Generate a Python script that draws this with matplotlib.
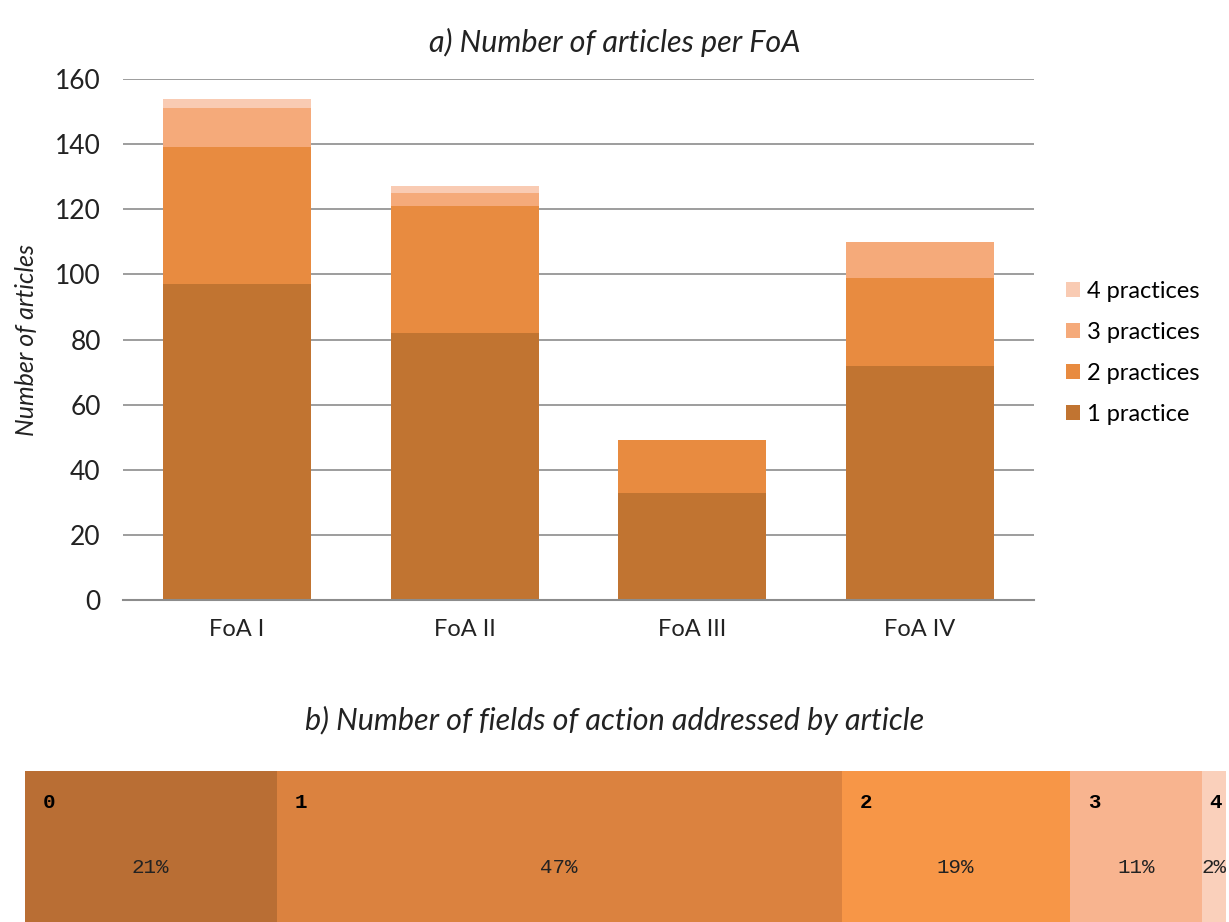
import matplotlib
matplotlib.use("Agg")
import matplotlib.pyplot as plt
import numpy as np

plt.rcParams["font.family"] = ["Lato", "DejaVu Sans"]

# panel a: articles per field of action, stacked by number of practices
foas = ["FoA I", "FoA II", "FoA III", "FoA IV"]
series_names = ["1 practice", "2 practices", "3 practices", "4 practices"]
one_practice = [97, 82, 33, 72]
two_practices = [42, 39, 16, 27]
three_practices = [12, 4, 0, 11]
four_practices = [3, 2, 0, 0]
yticks = [0, 20, 40, 60, 80, 100, 120, 140, 160]

# panel b: share of articles by number of fields of action addressed
n_fields = ["0", "1", "2", "3", "4"]
shares = [21, 47, 19, 11, 2]

a_colors = ["#C17431", "#E88B40", "#F5AA7A", "#F9CBB3"]
b_colors = ["#B96E34", "#DB823F", "#F79647", "#F8B48F", "#FAD0BB"]

fig = plt.figure(figsize=(12.29, 9.22), dpi=100)
W, H = 1229, 922

# ---- panel a
ax = fig.add_axes([123 / W, 1 - 600 / H, 911 / W, 521 / H])
x = np.arange(len(foas))
bottom = np.zeros(len(foas))
for vals, name, col in zip([one_practice, two_practices, three_practices, four_practices],
                           series_names, a_colors):
    ax.bar(x, vals, 0.65, bottom=bottom, color=col, label=name, zorder=2)
    bottom += np.array(vals)
ax.set_xlim(-0.5, 3.5)
ax.set_ylim(0, 160)
ax.set_yticks(yticks)
ax.set_xticks(x)
ax.set_xticklabels(foas, fontsize=17)
ax.tick_params(axis="y", labelsize=19, length=0, pad=16, labelcolor="#222222")
ax.tick_params(axis="x", length=0, pad=14, labelcolor="#222222")
ax.grid(axis="y", color="#8c8c8c", lw=1.2, zorder=0)
for s in ["left", "right", "top"]:
    ax.spines[s].set_visible(False)
ax.spines["bottom"].set_color("#8c8c8c")
ax.spines["bottom"].set_linewidth(1.5)
ax.set_ylabel("Number of articles", fontsize=18, style="italic", labelpad=12,
              color="#222222")
handles, labels = ax.get_legend_handles_labels()
ax.legend(handles[::-1], labels[::-1], loc="center left", bbox_to_anchor=(1.035, 0.474),
          frameon=False, fontsize=17, handlelength=0.6, handleheight=0.6,
          handletextpad=0.3, labelspacing=0.85, borderpad=0, borderaxespad=0)
fig.text(0.5, 1 - 42 / H, "a) Number of articles per FoA", ha="center", va="center",
         fontsize=22, style="italic", color="#222222")

# ---- panel b
fig.text(0.5, 1 - 720 / H, "b) Number of fields of action addressed by article",
         ha="center", va="center", fontsize=22, style="italic", color="#222222")
bx = fig.add_axes([24.5 / W, 0, 1201.5 / W, (922 - 771) / H])
left = 0
for lab, sh, col in zip(n_fields, shares, b_colors):
    bx.bar(left, 1, sh, bottom=0, align="edge", color=col)
    bx.text(left + min(1.5, sh * 0.3), 0.79, lab, ha="left", va="center", fontsize=15,
            fontweight="bold", family="Liberation Mono")
    bx.text(left + sh / 2, 0.36, f"{sh}%", ha="center", va="center", fontsize=15,
            family="Liberation Mono", color="#222222")
    left += sh
bx.set_xlim(0, 100)
bx.set_ylim(0, 1)
bx.axis("off")

fig.savefig("out.png", dpi=100)
